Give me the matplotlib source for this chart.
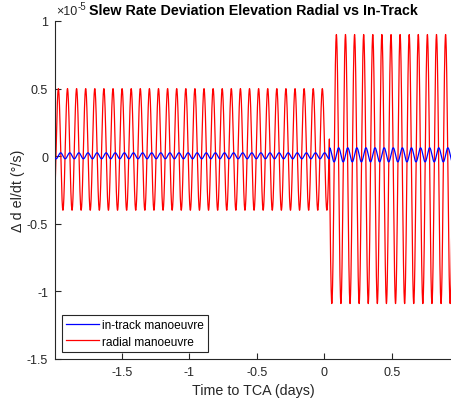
import numpy as np
import matplotlib.pyplot as plt
from matplotlib.ticker import FuncFormatter, MultipleLocator

plt.rcParams['font.family'] = ['Liberation Sans', 'DejaVu Sans']

# --- Values (rates in units of 1e-5 deg/s, time in days) ---
t_start, t_man, t_end = -1.995, 0.037, 0.945
period = 0.0674                      # one orbit, in days
red_peak_ref = [-1.970, 0.0887]      # time of one red maximum: before / after manoeuvre
red_max = [0.50, 0.90]
red_min = [-0.40, -1.09]
blue_max = [0.025, 0.062]
blue_min = [-0.019, -0.042]
scale = 1e-5

labels = ['in-track manoeuvre', 'radial manoeuvre']

# --- Build the two orbital-period signals, segment by segment ---
t = np.arange(t_start, t_end, 0.0004)
radial = np.zeros_like(t)
intrack = np.zeros_like(t)
bounds = [(t_start, t_man), (t_man, t_end + 1)]
for i, (a, b) in enumerate(bounds):
    sel = (t >= a) & (t < b)
    ph = 2 * np.pi * (t[sel] - red_peak_ref[i]) / period
    r_mid, r_amp = (red_max[i] + red_min[i]) / 2, (red_max[i] - red_min[i]) / 2
    b_mid, b_amp = (blue_max[i] + blue_min[i]) / 2, (blue_max[i] - blue_min[i]) / 2
    radial[sel] = r_mid + r_amp * np.cos(ph)
    intrack[sel] = b_mid + b_amp * np.sin(ph)   # in-track lags a quarter orbit

fig = plt.figure(figsize=(4.52, 4.10), dpi=100)
ax = fig.add_axes([55 / 452, 50 / 410, 397 / 452, 338 / 410])

l_red, = ax.plot(t, radial * scale, color='red', lw=0.9, zorder=2)
l_blue, = ax.plot(t, intrack * scale, color='blue', lw=0.9, zorder=3)

ax.set_xlim(t_start, t_end)
ax.set_ylim(-1.5 * scale, 1.0 * scale)
ax.xaxis.set_major_locator(MultipleLocator(0.5))
ax.yaxis.set_major_locator(MultipleLocator(0.5 * scale))
ax.xaxis.set_major_formatter(FuncFormatter(lambda v, p: '%g' % round(v, 3)))
ax.yaxis.set_major_formatter(FuncFormatter(lambda v, p: '%g' % round(v / scale, 3)))

grey = '#262626'
for s in ['top', 'right']:
    ax.spines[s].set_visible(False)
for s in ['left', 'bottom']:
    ax.spines[s].set_color(grey)
    ax.spines[s].set_linewidth(0.8)
ax.tick_params(direction='in', length=4, width=0.8, colors=grey, labelsize=9)
ax.tick_params(axis='x', pad=5)
ax.tick_params(axis='y', pad=5)

# exponent label, MATLAB style
ax.text(0.004, 1.012, '×10', transform=ax.transAxes, fontsize=9, color=grey,
        ha='left', va='bottom')
ax.text(0.058, 1.03, '-5', transform=ax.transAxes, fontsize=7, color=grey,
        ha='left', va='bottom')

ax.set_title('Slew Rate Deviation Elevation Radial vs In-Track',
             fontsize=10.3, fontweight='bold', pad=5)
ax.set_xlabel('Time to TCA (days)', fontsize=10.3, color=grey, labelpad=4)
ax.set_ylabel('Δ d el/dt (°/s)', fontsize=10.3, color=grey, labelpad=1)

leg = ax.legend([l_blue, l_red], labels, loc='lower left', fontsize=8.6,
                fancybox=False, framealpha=1, edgecolor=grey, handlelength=2.7,
                borderaxespad=0.6, borderpad=0.35, labelspacing=0.35, handletextpad=0.25)
leg.get_frame().set_linewidth(0.8)

fig.savefig('out.png', dpi=100)
